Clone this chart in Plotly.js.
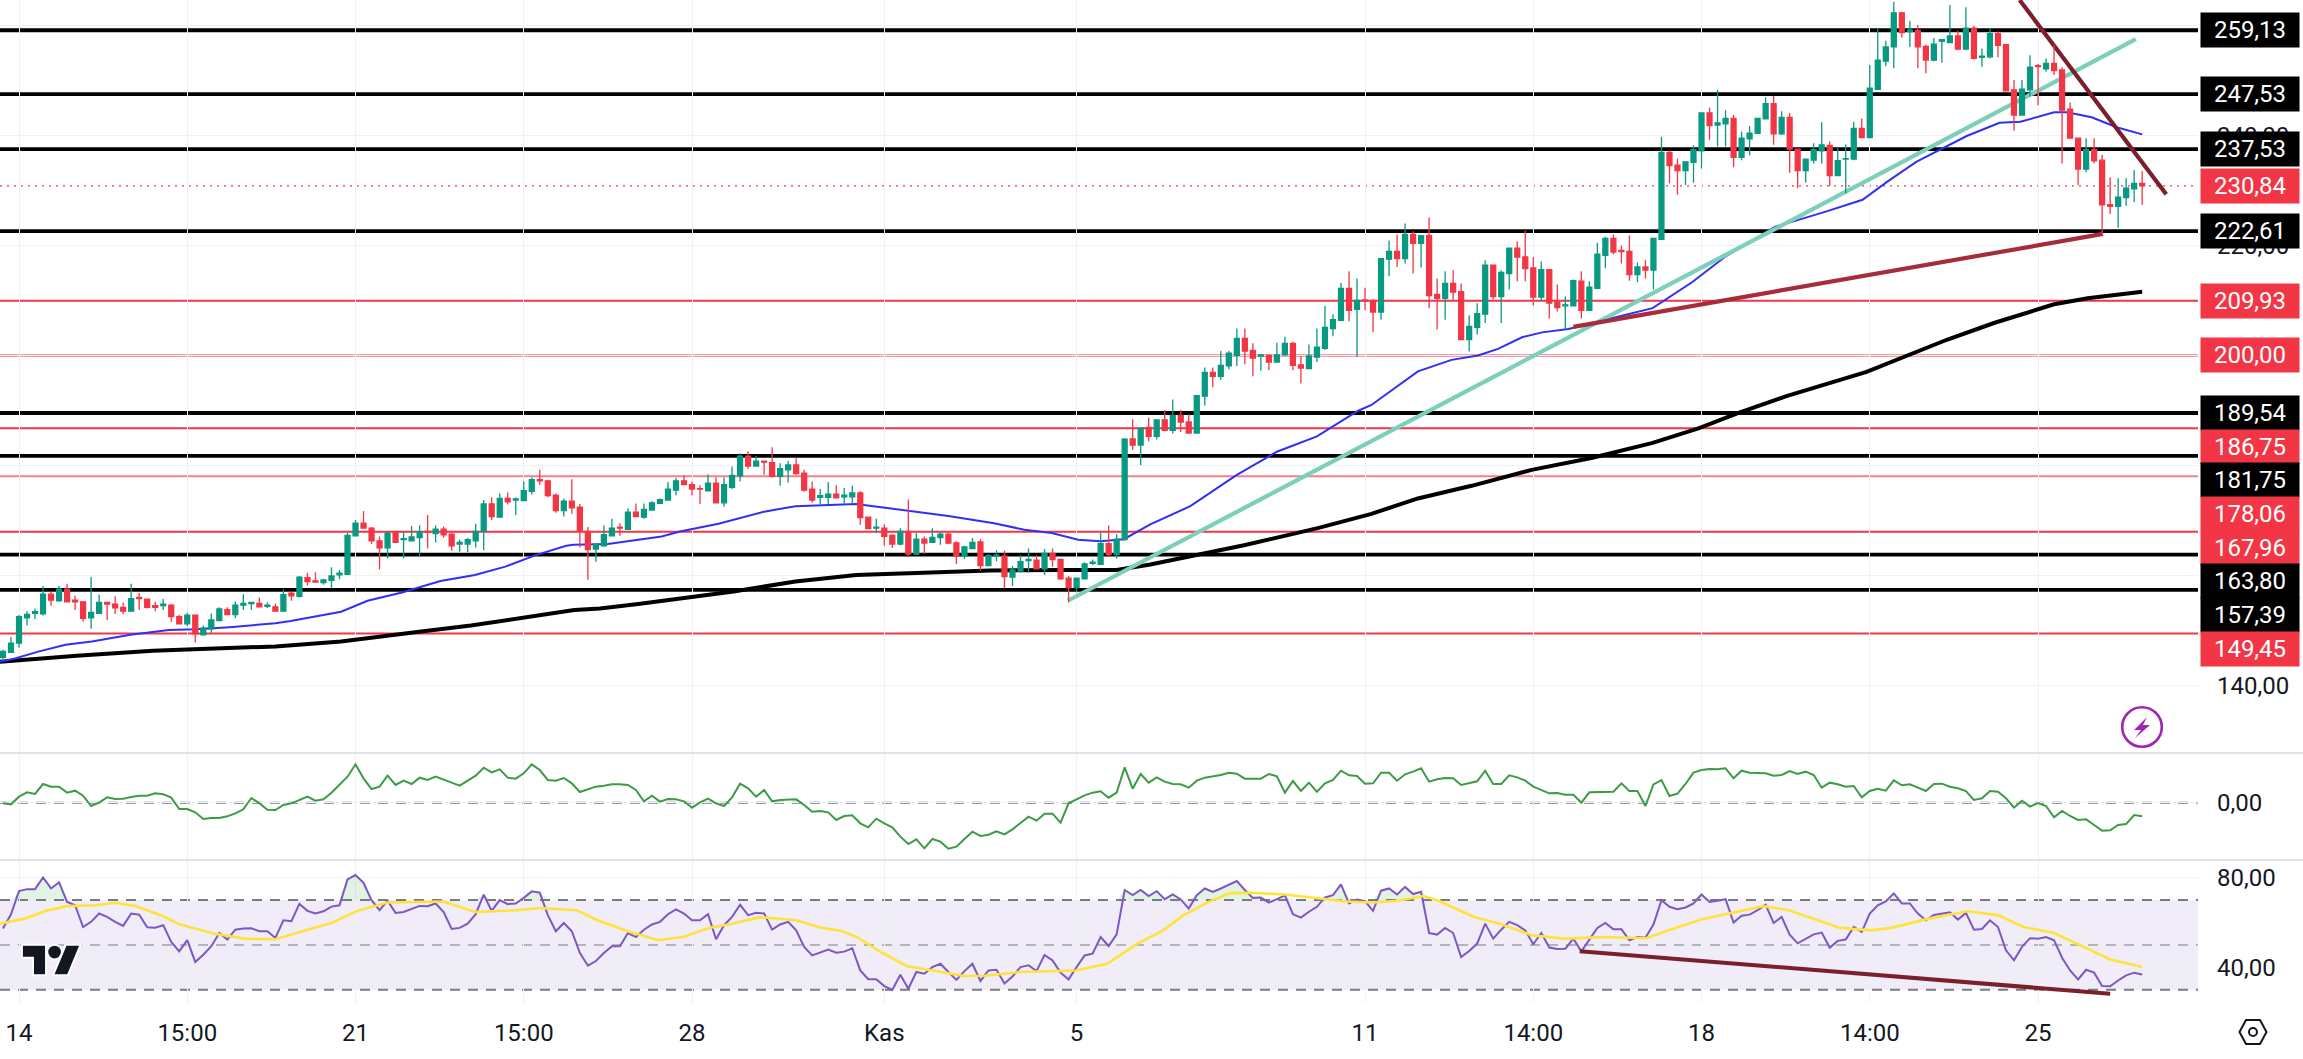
<!DOCTYPE html>
<html><head><meta charset="utf-8">
<script src="https://cdn.plot.ly/plotly-3.0.1.min.js"></script>
<style>html,body{margin:0;padding:0;background:#fff}#c{width:2303px;height:1059px}</style></head>
<body><div id="c"></div>
<script>
// Candles: [open, high, low, close]
const ohlc = [
[145.1,146.5,144.8,146.2],[146.0,148.8,145.9,147.7],[147.7,152.8,146.9,152.5],[152.3,153.5,150.9,152.9],[153.1,154.0,152.1,153.4],[153.0,158.1,152.7,156.6],[156.6,157.1,154.5,155.5],[155.4,158.1,155.2,157.5],[157.5,158.5,155.1,155.2],[155.5,156.3,153.7,155.2],
[155.2,155.2,151.6,152.2],[152.3,159.7,150.3,153.3],[153.1,156.5,153.0,155.1],[155.1,155.1,151.9,154.8],[154.8,156.2,153.0,154.1],[154.2,155.1,153.0,153.5],[153.5,158.5,153.4,155.8],[156.0,156.8,153.7,155.8],[155.7,155.8,154.0,154.2],[154.5,155.2,153.5,154.2],
[154.5,155.7,153.7,154.8],[154.6,154.8,151.6,152.5],[152.5,152.8,151.2,151.2],[151.2,153.2,150.8,152.8],[152.8,152.8,147.8,149.4],[149.2,150.9,149.2,150.4],[150.3,153.1,149.6,151.9],[151.8,154.2,151.7,153.9],[153.8,154.2,152.8,152.9],[152.9,155.2,152.2,154.6],
[154.6,156.6,153.7,154.9],[154.9,155.2,153.7,155.1],[154.9,156.0,154.2,154.3],[154.4,155.1,154.1,154.6],[154.3,154.9,153.4,153.5],[153.5,157.5,153.5,156.5],[156.8,157.1,155.4,156.3],[156.2,159.9,156.0,159.7],[159.6,160.5,158.2,158.9],[159.0,160.6,158.7,158.8],
[158.7,159.4,158.3,159.2],[159.1,161.5,157.7,159.9],[160.1,161.0,159.3,160.4],[160.2,167.8,160.2,167.3],[167.2,170.1,167.2,169.5],[169.5,171.7,168.5,168.6],[168.6,168.8,165.7,166.3],[166.3,167.1,161.1,165.0],[165.0,168.0,163.1,167.7],[167.9,168.0,165.9,166.0],
[166.5,167.9,163.1,166.7],[166.3,169.0,166.2,167.0],[166.9,169.1,163.5,167.9],[168.0,171.0,164.9,167.9],[167.6,169.1,166.0,168.4],[168.4,168.9,166.9,167.4],[167.5,167.7,164.5,165.4],[165.7,166.5,164.3,166.0],[165.7,166.8,164.2,166.5],[166.3,169.4,165.1,168.0],
[168.0,173.7,164.6,173.0],[173.0,174.2,170.1,170.7],[170.6,174.9,170.5,174.0],[174.0,175.1,172.9,173.4],[173.7,174.2,171.0,173.9],[173.6,177.1,173.5,175.4],[175.3,177.8,174.7,177.4],[177.4,179.2,176.5,177.2],[177.2,177.4,174.2,174.5],[174.6,174.9,171.4,171.8],
[171.8,174.0,170.7,173.5],[173.5,177.5,171.2,172.3],[172.4,173.0,165.1,168.0],[168.0,168.8,159.2,164.7],[164.8,165.8,162.5,165.6],[165.4,169.1,165.2,167.4],[167.2,170.3,167.2,168.6],[168.8,169.5,167.2,168.6],[168.4,172.2,168.3,171.5],[171.5,173.1,170.6,170.7],
[170.6,173.1,170.3,172.0],[171.9,173.5,171.8,173.2],[173.1,174.0,173.0,173.8],[173.7,177.0,173.7,175.7],[175.5,177.7,174.6,177.2],[177.2,178.2,176.4,176.5],[176.5,177.1,174.6,175.7],[175.8,176.4,173.0,175.7],[175.4,178.4,175.4,176.8],[176.8,177.8,173.1,173.2],
[173.2,177.8,172.5,176.5],[176.0,179.8,175.7,178.2],[178.1,182.2,177.1,181.7],[181.7,182.6,179.4,179.9],[179.9,181.7,179.9,180.8],[180.8,180.8,178.3,180.6],[180.5,183.3,177.8,178.0],[178.0,180.4,176.3,179.4],[179.2,180.8,176.9,180.1],[180.1,181.3,178.3,178.5],
[178.6,179.2,175.2,175.5],[175.7,177.1,173.2,173.7],[174.2,175.7,173.0,174.5],[174.2,177.0,173.0,174.8],[174.8,176.4,174.0,174.1],[174.3,175.9,173.1,174.6],[174.3,176.3,173.0,175.0],[175.0,175.3,169.2,170.5],[170.6,170.6,168.5,168.5],[168.6,170.3,167.7,168.8],
[168.6,169.3,165.4,167.1],[167.3,167.5,165.0,165.7],[165.7,168.6,165.5,168.0],[168.0,173.8,163.4,163.9],[163.9,167.7,163.7,166.6],[166.6,167.1,163.9,165.9],[166.0,168.6,165.9,166.9],[166.9,167.8,165.6,167.5],[167.5,167.8,165.7,165.9],[165.9,166.2,162.1,163.6],
[163.5,165.4,163.0,165.2],[164.9,166.8,164.8,166.0],[166.1,166.6,160.8,161.8],[161.8,163.9,161.8,163.6],[163.5,164.6,162.6,163.7],[163.5,164.5,157.7,159.8],[159.7,161.7,158.1,161.0],[160.8,163.7,160.5,162.5],[162.7,164.9,160.5,162.9],[162.8,163.7,161.1,161.2],
[161.2,164.8,160.1,164.0],[164.0,164.9,161.6,162.9],[162.9,163.1,159.2,159.4],[159.5,159.9,155.1,157.8],[157.8,159.5,156.9,159.5],[159.4,162.4,159.3,162.1],[162.2,162.9,161.9,162.4],[162.0,167.8,161.9,165.8],[165.8,169.1,163.4,163.8],[163.8,167.5,163.1,166.6],
[166.5,185.0,166.3,184.8],[184.85,188.4,182.8,183.7],[183.7,186.9,180.1,186.8],[186.9,188.7,184.4,185.3],[185.3,188.4,184.7,188.3],[188.3,190.1,186.2,186.4],[186.4,192.0,185.8,189.1],[189.1,190.1,186.1,187.9],[187.9,189.3,185.8,185.9],[185.9,192.7,185.8,192.7],
[192.6,197.8,190.9,196.9],[196.9,197.8,194.2,196.2],[196.2,200.8,195.6,198.2],[198.1,200.8,197.5,200.4],[200.0,204.9,198.1,203.1],[203.1,204.9,198.4,200.8],[200.9,202.2,196.2,199.5],[199.9,200.1,197.2,200.1],[200.0,200.0,197.3,198.8],[198.8,202.3,198.8,200.1],
[200.1,203.4,199.9,202.2],[202.2,202.5,197.3,198.2],[198.3,199.9,194.9,197.7],[197.6,202.0,197.5,199.9],[199.7,204.9,198.8,201.5],[201.3,209.0,201.0,205.1],[204.9,207.5,203.5,206.5],[206.4,213.2,206.2,212.2],[212.2,215.3,206.2,208.2],[208.4,214.0,199.7,210.0],
[210.1,212.3,208.2,209.9],[210.0,210.2,204.2,207.9],[207.9,217.6,206.5,217.6],[217.5,220.9,214.4,218.9],[218.9,222.0,216.1,217.6],[217.6,224.0,216.7,222.0],[222.0,222.6,214.9,220.4],[220.4,221.8,216.0,221.8],[221.8,225.1,208.6,210.9],[211.1,214.0,204.7,210.4],
[210.4,215.3,206.5,213.1],[213.1,215.5,209.9,211.5],[211.6,213.1,202.9,202.9],[202.9,207.3,200.7,205.3],[205.1,209.5,203.8,207.6],[207.5,217.3,205.9,216.4],[216.4,216.4,210.2,210.7],[210.7,215.5,205.9,215.1],[214.9,219.5,212.0,219.5],[219.5,220.7,213.5,217.9],
[217.9,222.7,213.5,215.8],[215.9,217.9,209.1,210.6],[210.6,217.1,209.9,215.6],[215.6,215.6,206.7,209.5],[209.7,212.9,208.0,208.7],[209.0,210.7,204.7,209.2],[209.0,213.8,208.9,213.6],[213.5,215.3,206.7,208.2],[208.2,213.5,208.1,212.4],[212.2,220.5,212.2,218.4],
[218.2,221.6,215.9,221.3],[221.3,222.0,218.4,218.8],[219.1,220.0,216.7,218.9],[218.9,221.8,213.6,214.7],[214.7,216.9,213.3,216.1],[216.1,217.3,214.0,215.5],[215.5,221.4,212.0,221.3],[221.1,239.7,221.0,236.9],[236.9,237.2,231.3,234.5],[234.6,235.8,229.2,233.6],
[233.6,235.3,231.0,235.2],[235.1,238.2,231.4,237.4],[237.2,244.2,234.0,244.1],[244.1,245.1,239.2,241.8],[241.9,248.3,238.0,242.3],[242.1,244.6,238.0,243.1],[243.1,243.7,234.2,236.0],[236.0,240.7,235.5,239.5],[239.4,241.7,236.4,240.4],[240.4,243.1,240.3,243.1],
[243.0,246.9,243.0,245.8],[245.8,247.2,238.3,240.3],[240.3,244.4,240.1,243.3],[243.3,244.1,233.2,237.5],[237.5,237.5,230.4,233.6],[233.6,235.7,231.4,235.7],[235.5,238.6,234.9,237.4],[237.2,242.4,234.9,238.3],[238.2,238.9,230.8,232.7],[232.7,237.7,232.6,235.4],
[235.7,238.4,229.5,235.8],[235.7,242.5,235.5,241.3],[241.3,243.1,239.5,239.6],[239.6,252.8,239.5,248.6],[248.4,259.5,248.3,253.7],[253.5,257.2,252.6,256.1],[256.1,264.3,252.2,262.3],[262.3,262.5,257.8,258.7],[258.9,260.8,256.1,259.2],[259.1,260.1,252.2,256.1],
[256.2,256.5,251.3,253.7],[253.7,257.7,253.5,256.6],[257.1,257.4,253.2,257.4],[256.9,263.7,256.8,258.1],[258.1,259.1,255.5,255.7],[255.7,263.3,255.5,259.5],[259.5,259.9,253.8,254.0],[254.2,255.8,252.5,254.4],[254.3,259.5,254.0,258.5],[258.5,258.9,254.2,256.4],
[256.5,256.6,248.0,248.1],[248.3,250.1,240.9,243.7],[243.7,250.1,243.7,248.4],[248.3,254.6,247.1,252.4],[252.7,253.0,245.5,252.5],[252.1,254.0,251.6,253.1],[253.1,256.4,251.0,251.8],[251.9,252.4,234.9,244.6],[244.8,246.0,239.4,239.5],[239.5,239.5,231.0,233.9],
[233.9,239.5,233.3,237.4],[237.4,239.5,234.9,235.4],[235.5,236.5,221.9,227.4],[227.4,232.4,225.7,227.1],[227.1,232.2,223.2,228.8],[228.7,232.2,227.2,230.4],[230.3,233.7,227.9,231.3],[231.3,233.5,227.4,230.84]
];
const candleIdx = ohlc.map((_, i) => i);

const maBlueIdx = [-0.4,1.5,4.4,7.8,11.1,15.9,20.7,24,28.3,34,35.9,42.2,45.5,49.8,54.6,58.9,62.7,66.5,70.3,71.2,75.5,78.3,82.2,84.5,89.3,95,98.9,106.5,114.2,118,123.7,127.5,130.9,134.2,137,139.9,143.2,148.2,154,159,164,169.1,170.8,176.6,180.8,184.1,186.6,189.6,192.1,195.4,200.9,205.9,210.9,214.9,221.2,227.4,232.1,235.2,238.8,245.1,249.2,251.8,256,257.6,260.7,263.8,267];
const maBlueVal = [144.3,144.9,146.15,147.4,148.0,149.2,150.1,150.2,150.6,151.3,151.7,153.4,155.4,156.9,159.0,160.1,161.6,163.7,165.4,165.6,165.7,166.3,167.1,168.0,169.4,171.6,172.6,173.0,171.5,170.8,169.5,168.3,167.7,166.5,166.2,166.6,169.3,172.6,178.3,182.5,185.3,189.9,191.0,197.1,199.2,200.0,201.2,203.3,204.2,204.8,206.8,208.6,213.4,217.9,223.4,226.1,228.3,231.6,235.2,239.9,242.3,242.5,244.2,244.2,243.3,241.5,240.2];
const maBlackIdx = [-0.4,9.2,18.7,28.3,34,42.2,47.4,52.2,58.4,65.6,71.3,74.5,79.3,91.2,98.9,106.5,116,123.2,132.3,139,143.2,154.9,164.1,170.8,176.6,183.3,190.8,198.4,205.9,211.7,216.7,222.6,232.6,237.6,242.7,248.5,256,260.2,267];
const maBlackVal = [144.3,145.4,146.3,146.7,147.1,148.0,149.0,149.8,150.9,152.5,153.7,154.0,154.8,157.1,158.9,160.1,160.6,160.9,161.0,161.0,162.0,165.5,168.6,171.2,174.0,176.3,179.2,181.4,184.1,186.8,189.6,192.6,197.0,200.0,202.9,205.9,209.3,210.4,211.6];

const levelsBlack = [259.13,247.53,237.53,222.61,189.54,181.75,163.80,157.39];
const levelsRed = [209.93,200.00,186.75,167.96,149.45];
const levelsPaleRed = [178.06];
const lastPrice = 230.84;

const trendTeal = {x:[132.9,266.2], y:[155.4,257.5]};
const trendBrown = {x:[196,262.1], y:[205.2,222.1]};
const trendMaroon = {x:[251.7,270], y:[264.63,229.3]};
const trendRsi = {x:[196.8,263], y:[47.2,28.2]};

const cci = [-4,-10,36,62,52,112,96,96,60,72,42,-20,0,32,22,24,34,42,42,56,50,30,-38,-38,-58,-98,-92,-92,-82,-64,-40,28,-4,-42,-44,-14,-4,16,36,12,20,60,106,156,230,146,82,96,162,106,132,112,150,136,156,140,120,102,132,162,210,182,200,150,144,176,230,196,136,132,148,116,64,80,96,102,110,110,106,76,8,42,6,22,20,8,-30,2,24,-4,-20,32,114,86,36,76,8,16,16,20,-14,-54,-50,-58,-104,-80,-76,-124,-148,-96,-124,-148,-204,-248,-220,-274,-218,-234,-276,-264,-218,-174,-200,-192,-172,-190,-160,-120,-84,-108,-66,-66,-120,-4,20,44,60,68,30,60,212,84,172,120,152,126,112,110,90,132,150,158,166,180,174,144,142,144,172,158,60,130,70,120,66,116,136,192,164,160,114,116,180,180,132,170,186,206,126,140,148,146,106,116,128,192,112,112,164,152,132,96,76,56,58,48,48,0,62,64,66,66,116,70,70,-20,110,136,40,54,112,180,196,202,200,206,146,192,180,178,176,162,166,190,172,186,166,90,120,110,96,100,32,70,84,72,134,104,110,90,70,112,114,96,86,70,16,26,70,66,26,-30,12,-24,-2,-20,-88,-50,-80,-104,-100,-134,-168,-166,-134,-128,-74,-82];

const rsi = [57.3,63.7,74.0,74.9,74.9,80.1,75.2,77.9,69.2,67.7,58.0,60.3,64.0,62.5,60.3,58.5,64.0,63.5,57.9,57.7,58.8,51.3,47.1,52.1,42.4,45.6,49.4,55.3,52.4,56.8,57.3,57.4,56.1,56.1,53.1,61.0,60.6,68.3,65.2,64.0,65.0,67.1,67.7,79.2,81.2,77.7,70.0,65.5,69.7,64.3,64.7,65.9,67.4,67.3,68.5,64.7,57.1,57.6,59.5,63.7,72.4,65.2,70.0,68.2,68.5,71.0,73.9,73.3,63.3,56.1,59.8,56.1,46.5,40.7,42.8,46.4,49.4,49.4,55.3,53.5,56.8,59.1,60.3,63.7,65.9,64.0,61.0,61.0,63.7,52.5,58.8,62.5,67.9,63.3,64.3,64.0,56.8,59.1,60.3,56.5,49.1,45.3,46.5,47.9,46.5,47.0,48.5,38.6,34.7,34.7,31.6,29.9,36.7,30.4,37.9,37.1,40.1,41.6,37.9,34.4,38.3,41.6,33.9,38.6,38.9,32.8,35.9,40.1,40.9,38.3,45.5,43.1,37.6,34.6,40.1,45.3,46.1,53.5,49.5,54.7,74.5,72.2,74.5,71.8,74.0,70.4,72.5,70.3,66.2,72.2,75.2,73.7,75.2,77.0,78.5,74.5,71.0,71.2,68.9,70.4,72.1,63.7,62.2,64.8,67.0,71.2,72.2,77.0,68.5,70.3,69.5,65.2,74.2,75.2,72.5,75.9,72.7,73.7,55.3,54.6,57.6,55.3,44.6,47.3,50.6,59.5,52.8,56.8,60.3,58.8,56.5,50.3,55.3,48.8,48.2,48.3,52.8,47.1,52.1,57.6,59.8,57.0,57.0,52.1,53.5,53.2,59.1,70.0,67.0,65.9,66.7,68.5,72.5,69.2,69.7,70.4,60.0,63.0,63.5,65.5,67.9,59.8,62.5,54.6,50.7,52.8,54.7,55.5,48.8,51.8,52.4,58.0,55.8,64.0,67.7,69.4,73.0,68.5,68.5,64.0,61.0,63.4,64.0,64.6,61.3,64.3,56.8,57.1,61.0,58.0,47.6,43.1,49.1,53.0,52.8,53.5,52.1,44.3,38.6,34.6,38.9,37.6,31.6,31.5,34.1,36.4,37.6,36.8];
const rsiMaIdx = [-0.37,2.8,5.4,7.9,11.7,14,16.5,20,22,26.4,30.2,34,37.8,41,44.2,48,55,58.9,64,67.1,71.6,74.2,78,81.8,85,88.2,90.7,94.5,99,102.1,104.7,106.6,109.7,112.9,116.1,119.9,122.5,126.9,133.9,137.8,141.6,144.8,147.3,150.5,153.1,155.6,160,164.5,167.7,170.9,174.1,177.3,179.2,183.6,186.8,190.8,194.9,200,205.1,207.6,212.1,219.7,222.9,229.3,233.1,235.7,240.1,245.2,249,252.2,256,259.9,263,267];
const rsiMaVal = [59.5,61.8,65.2,67.3,67.7,68.8,67.4,62.8,59.2,55.0,52.8,52.5,56.5,59.8,65.2,68.9,69.4,64.7,65.5,66.5,65.5,61.0,56.1,52.1,53.6,57.7,59.2,62.4,61.0,57.7,56.2,53.5,46.5,40.4,38.6,36.1,36.2,37.9,38.6,41.6,50.6,56.5,63.2,69.2,73.0,73.3,72.5,70.6,69.4,68.9,69.7,71.8,69.7,62.5,59.5,54.3,52.8,53.5,53.0,56.2,61.5,67.3,65.5,57.6,56.5,57.6,61.5,65.0,63.3,58.0,55.3,48.8,43.5,40.1];

const xTickVals = [2,23,44,65,86,110,134,170,191,212,233,254];
const xTickText = ['14','15:00','21','15:00','28','Kas','5','11','14:00','18','14:00','25'];
const priceTicks = [140,160,180,200,220,240,260];
// Labels of 160, 180, 200 and 260 sit fully behind the price boxes on the reference
const priceTickText = ['140,00','','','','220,00','240,00',''];
const cciTicks = [0];
const cciTickText = ['0,00'];
const rsiTicks = [40,80];
const rsiTickText = ['40,00','80,00'];
const rsiBands = {upper:70, middle:50, lower:30};

// Layout geometry
const W=2303,H=1059,PW=2198,PH=1003;
const FONT='Roboto, sans-serif', TXT='#131722', GRID='#f0f1f4', SEP='#e0e3eb';
const RED='#f23645', GREEN='#089981';
const dom=(a,b)=>[1-b/PH,1-a/PH];
const priceRange=[127.9,264.63], pxPerUnit=752/(priceRange[1]-priceRange[0]);

const shapes=[];
const hl=(y,color,width,dash,yref)=>shapes.push({type:'line',xref:'paper',yref:yref||'y',x0:0,x1:1,y0:y,y1:y,layer:'below',line:{color,width,dash:dash||'solid'}});
levelsRed.forEach(v=>hl(v,RED,2));
levelsPaleRed.forEach(v=>hl(v,'#f77f88',2));
levelsBlack.forEach(v=>hl(v,'#000',3.8));
hl(lastPrice,RED,1.4,'2px,5px');
hl(0,'#787b86',2,'10px,8px','y2');
shapes.push({type:'rect',xref:'paper',yref:'y3',x0:0,x1:1,y0:rsiBands.lower,y1:rsiBands.upper,layer:'below',line:{width:0},fillcolor:'rgba(126,87,194,0.115)'});
hl(rsiBands.upper,'#787b86',2,'10px,8px','y3');
hl(rsiBands.middle,'#b2b5be',2,'10px,8px','y3');
hl(rsiBands.lower,'#787b86',2,'10px,8px','y3');
[753,860].forEach(py=>shapes.push({type:'line',xref:'paper',yref:'paper',x0:0,x1:W/PW,y0:1-py/PH,y1:1-py/PH,line:{color:SEP,width:2}}));

const traces=[
 {type:'scatter',mode:'lines',x:maBlackIdx,y:maBlackVal,xaxis:'x',yaxis:'y',line:{color:'#000',width:4},hoverinfo:'skip'},
 {type:'scatter',mode:'lines',x:maBlueIdx,y:maBlueVal,xaxis:'x',yaxis:'y',line:{color:'#3030f5',width:2},hoverinfo:'skip'},
 {type:'scatter',mode:'lines',x:trendTeal.x,y:trendTeal.y,xaxis:'x',yaxis:'y',line:{color:'#7dcfba',width:4.2},hoverinfo:'skip'},
 {type:'scatter',mode:'lines',x:trendBrown.x,y:trendBrown.y,xaxis:'x',yaxis:'y',line:{color:'#a52c3c',width:4.2},hoverinfo:'skip'},
 {type:'scatter',mode:'lines',x:trendMaroon.x,y:trendMaroon.y,xaxis:'x',yaxis:'y',line:{color:'#7a1f2b',width:4.2},hoverinfo:'skip'},
 {type:'candlestick',x:candleIdx,open:ohlc.map(r=>r[0]),high:ohlc.map(r=>r[1]),low:ohlc.map(r=>r[2]),close:ohlc.map(r=>r[3]),xaxis:'x',yaxis:'y4',whiskerwidth:0,
  increasing:{line:{color:GREEN,width:1.3},fillcolor:GREEN},decreasing:{line:{color:RED,width:1.3},fillcolor:RED},hoverinfo:'skip'},
 {type:'scatter',mode:'lines',x:candleIdx,y:cci,xaxis:'x',yaxis:'y2',line:{color:'#3d9b46',width:2},hoverinfo:'skip'},
 {type:'scatter',mode:'lines',x:candleIdx,y:candleIdx.map(()=>rsiBands.upper),xaxis:'x',yaxis:'y3',line:{width:0},hoverinfo:'skip'},
 {type:'scatter',mode:'lines',x:candleIdx,y:rsi.map(v=>Math.max(v,rsiBands.upper)),xaxis:'x',yaxis:'y3',line:{width:0},fill:'tonexty',fillcolor:'rgba(76,175,80,0.16)',hoverinfo:'skip'},
 {type:'scatter',mode:'lines',x:candleIdx,y:rsi,xaxis:'x',yaxis:'y3',line:{color:'#7e57c2',width:2},hoverinfo:'skip'},
 {type:'scatter',mode:'lines',x:rsiMaIdx,y:rsiMaVal,xaxis:'x',yaxis:'y3',line:{color:'#fde33a',width:2.6},hoverinfo:'skip'},
 {type:'scatter',mode:'lines',x:trendRsi.x,y:trendRsi.y,xaxis:'x',yaxis:'y3',line:{color:'#7a1f2b',width:4},hoverinfo:'skip',cliponaxis:false}
];

// Price labels stack downwards when they would collide, as on the reference
const labelRows=[
 ...levelsBlack.map(v=>({v,c:'#000'})),
 ...levelsRed.map(v=>({v,c:RED})),
 ...levelsPaleRed.map(v=>({v,c:RED})),
 {v:lastPrice,c:RED}
].sort((a,b)=>b.v-a.v);
let lastPx=-1e9; const BOX=33.7;
const annotations=labelRows.map(r=>{
 const own=(priceRange[1]-r.v)*pxPerUnit;
 const pos=Math.max(own,lastPx+BOX); lastPx=pos;
 return {xref:'paper',yref:'y',x:(PW+2)/PW,y:r.v,xanchor:'left',yanchor:'middle',yshift:own-pos,showarrow:false,
  text:r.v.toFixed(2).replace('.',','),font:{family:FONT,size:24,color:'#fff'},bgcolor:r.c,width:98,height:BOX,borderpad:0,align:'center',valign:'middle'};
});

const svg=s=>'data:image/svg+xml,'+encodeURIComponent(s);
const img=(src,px,py,w,h)=>({source:src,xref:'paper',yref:'paper',x:px/PW,y:1-py/PH,sizex:w/PW,sizey:h/PH,xanchor:'left',yanchor:'top',sizing:'stretch',layer:'above'});
const logo=svg('<svg xmlns="http://www.w3.org/2000/svg" width="72" height="38" viewBox="-3 1 41.5 24"><g fill="#131722" stroke="#fff" stroke-width="2.5" paint-order="stroke"><path d="M14 22H7V11H0V4h14v18z"/><path d="M28 22h-8l7.5-18h8L28 22z"/><circle cx="20" cy="8" r="4"/></g></svg>');
const bolt=svg('<svg xmlns="http://www.w3.org/2000/svg" width="44" height="44" viewBox="0 0 44 44"><circle cx="22" cy="22" r="19.8" fill="#fff" stroke="#9c27b0" stroke-width="2.6"/><path d="M27 12 L14 25 H21 L15 33 L30 20 H23 Z" fill="#9c27b0"/></svg>');
const gear=svg('<svg xmlns="http://www.w3.org/2000/svg" width="30" height="28" viewBox="0 0 30 28"><path d="M8 2 H22 L28.5 14 L22 26 H8 L1.5 14 Z" fill="none" stroke="#131722" stroke-width="2"/><circle cx="15" cy="14" r="4" fill="none" stroke="#131722" stroke-width="2"/></svg>');

const tickFont={family:FONT,size:24,color:TXT};
const yBase={side:'right',showline:false,zeroline:false,ticks:'',gridcolor:GRID,gridwidth:1,tickfont:tickFont,ticklabelstandoff:18,tickmode:'array',fixedrange:true};
const layout={
 width:W,height:H,margin:{l:0,r:W-PW,t:0,b:H-PH,pad:0},paper_bgcolor:'#fff',plot_bgcolor:'#fff',showlegend:false,separators:',.',boxgap:0.12,hovermode:false,
 xaxis:{type:'linear',range:[-2.98/8.012,(PW-2.98)/8.012],anchor:'y3',tickmode:'array',tickvals:xTickVals,ticktext:xTickText,tickfont:tickFont,ticks:'',showline:false,zeroline:false,showgrid:true,gridcolor:GRID,gridwidth:1,rangeslider:{visible:false},ticklabelstandoff:13,fixedrange:true},
 yaxis:{...yBase,domain:dom(0,752),range:priceRange,tickvals:priceTicks,ticktext:priceTickText},
 yaxis2:{...yBase,domain:dom(754,859),range:[-338,292],tickvals:cciTicks,ticktext:cciTickText},
 yaxis3:{...yBase,domain:dom(861,1003),range:[24.06,87.46],tickvals:rsiTicks,ticktext:rsiTickText},
 yaxis4:{overlaying:'y',side:'right',range:priceRange,visible:false,showgrid:false,fixedrange:true},
 shapes,annotations,
 images:[img(logo,15,941,72,38),img(bolt,2120,705,44,44),img(gear,2238,1018,30,28)]
};
Plotly.newPlot('c',traces,layout,{staticPlot:true,displayModeBar:false});
</script></body></html>
